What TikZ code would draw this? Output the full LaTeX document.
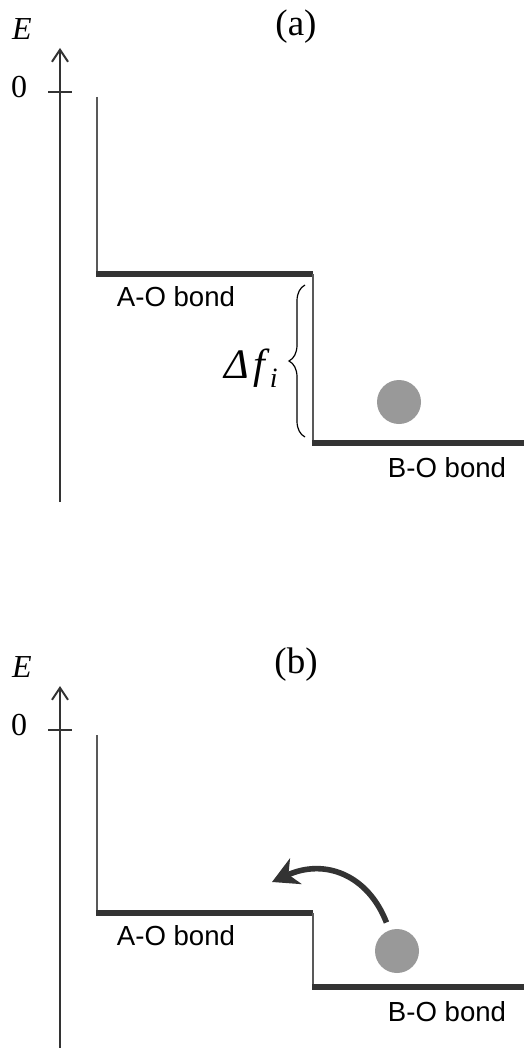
\documentclass[tikz,border=0pt]{standalone}
\usepackage{fontspec}
\setmainfont{Liberation Serif}
\newfontfamily\bondfont{Liberation Sans}
\usetikzlibrary{arrows.meta,positioning,decorations.pathreplacing}
\definecolor{bardark}{HTML}{333333}
\definecolor{ballgray}{HTML}{999999}

\begin{document}
\begin{tikzpicture}[x=0.5pt,y=-0.5pt,
    axisline/.style={line width=1pt,bardark},
    wall/.style={line width=0.75pt,black!65},
    level/.style={line width=3.4pt,bardark},
    ball/.style={circle,fill=ballgray,minimum size=22pt,inner sep=0pt},
    bondlbl/.style={font=\bondfont\fontsize{13.8}{16}\selectfont,inner sep=0pt},
    numlbl/.style={font=\fontsize{16}{18}\selectfont,inner sep=0pt},
    panel/.style={font=\fontsize{18.5}{20}\selectfont,inner sep=0pt}]
  \useasboundingbox (0,0) rectangle (524,1048);
  % (a)
  \node[panel] (tagA) at (296,27) {(a)};
  \node[numlbl,font=\fontsize{16}{18}\selectfont\itshape] (enA) at (22,29) {E};
  \node[numlbl] (zeroA) at (19,87) {0};
  \coordinate (axA0) at (60,502);
  \coordinate (axA1) at (60,48);
  \draw[axisline,-{Straight Barb[length=6pt,width=8pt]}] (axA0) -- (axA1);
  \draw[axisline] (48,92) -- (72,92);
  % A-O level
  \draw[wall] (97,97) -- (97,274);
  \draw[level] (96,274) -- (313,274);
  \node[bondlbl] (aoA) at (176,297) {A-O bond};
  % B-O level
  \draw[wall] (313,274) -- (313,443);
  \draw[level] (312,443) -- (524,443);
  \node[bondlbl] (boA) at (447,468) {B-O bond};
  \node[ball] (ballA) at (399,402) {};
  % gap
  \draw[line width=0.6pt,decorate,decoration={brace,amplitude=8pt}] (305,437) -- (305,285);
  \node[font=\fontsize{21}{22}\selectfont\itshape,inner sep=0pt] (gapA) at (251,368)
    {Δ\kern2pt f\kern2.5pt\raisebox{-0.22em}{\fontsize{14}{14}\selectfont i}};

  % (b)
  \node[panel] (tagB) at (296,665) {(b)};
  \node[numlbl,font=\fontsize{16}{18}\selectfont\itshape] (enB) at (22,667) {E};
  \node[numlbl] (zeroB) at (19,725) {0};
  \coordinate (axB0) at (60,1050);
  \coordinate (axB1) at (60,686);
  \draw[axisline,-{Straight Barb[length=6pt,width=8pt]}] (axB0) -- (axB1);
  \draw[axisline] (48,730) -- (72,730);
  % A-O level
  \draw[wall] (97,735) -- (97,913);
  \draw[level] (96,913) -- (313,913);
  \node[bondlbl] (aoB) at (176,936) {A-O bond};
  % B-O level
  \draw[wall] (313,913) -- (313,987);
  \draw[level] (312,987) -- (524,987);
  \node[bondlbl] (boB) at (447,1012) {B-O bond};
  \node[ball] (ballB) at (397,951) {};
  % hop
  \coordinate (hopEnd) at (272,882);
  \draw[line width=2.8pt,bardark,shorten <=4pt,-{Stealth[length=13pt,width=14pt,inset=4pt]}]
    (ballB.110) .. controls (368,875) and (325,858) .. (hopEnd);
\end{tikzpicture}
\end{document}
